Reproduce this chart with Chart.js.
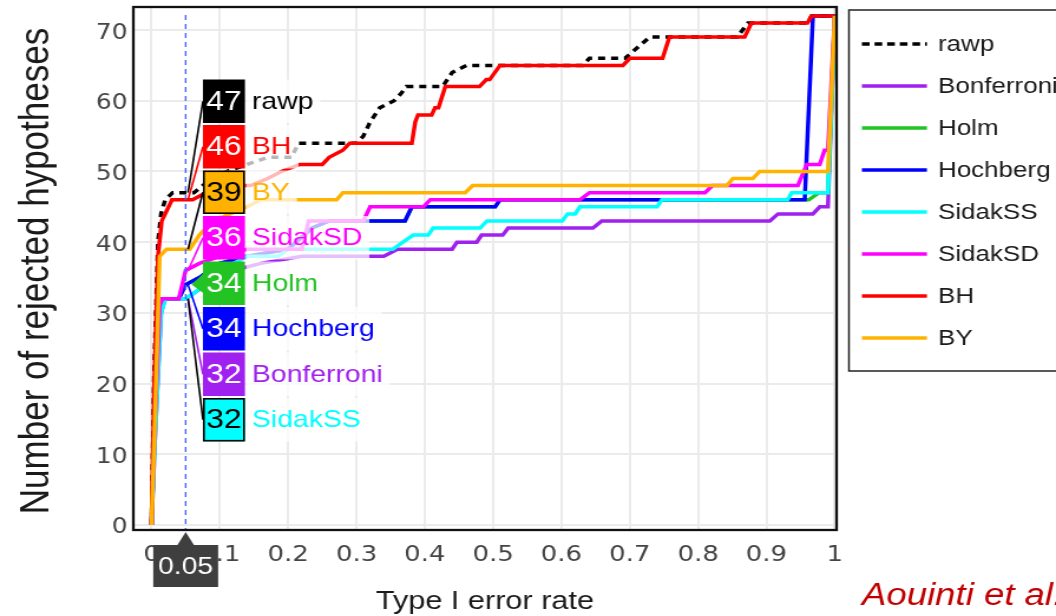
<!DOCTYPE html>
<html>
<head>
<meta charset="utf-8">
<script src="https://cdn.jsdelivr.net/npm/chart.js@4.4.1/dist/chart.umd.min.js"></script>
<style>
  html, body { margin: 0; padding: 0; background: #fff; overflow: hidden; }
  #wrap { width: 1056px; height: 616px; overflow: hidden; }
  /* the figure is laid out on a narrower canvas and widened horizontally */
  #chart { display: block; transform-origin: 0 0; transform: scaleX(1.17989); }
</style>
</head>
<body>
<div id="wrap"><canvas id="chart" width="895" height="616"></canvas></div>
<script>
// ---- procedures, in legend order ----
const seriesNames  = ['rawp', 'Bonferroni', 'Holm', 'Hochberg', 'SidakSS', 'SidakSD', 'BH', 'BY'];
const seriesColors = ['#000000', '#a020f0', '#22c322', '#0000ff', '#00ffff', '#ff00ff', '#ff0000', '#ffb300'];
const darkLabels   = ['BY', 'SidakSS'];   // labels printed in black with a black outline
const alpha = 0.05;

// ---- axis ticks ----
const xTicks      = [0, 0.1, 0.2, 0.3, 0.4, 0.5, 0.6, 0.7, 0.8, 0.9, 1];
const xTickLabels = ['0', '0.1', '0.2', '0.3', '0.4', '0.5', '0.6', '0.7', '0.8', '0.9', '1'];
const yTicks      = [0, 10, 20, 30, 40, 50, 60, 70];

// ---- number of rejected hypotheses vs type I error rate ----
const rawpX = [0, 0.004, 0.0095, 0.014, 0.02, 0.031, 0.05, 0.062, 0.075, 0.09, 0.11, 0.14, 0.17, 0.205, 0.215, 0.3, 0.31, 0.32, 0.334, 0.355, 0.365, 0.373, 0.426, 0.44, 0.461, 0.631, 0.641, 0.693, 0.705, 0.729, 0.857, 0.873, 0.96, 0.966, 1];
const rawpY = [0, 22, 40, 44, 46, 47, 47, 47, 48, 49, 50, 51, 52, 52, 54, 54, 55, 57, 59, 60, 61, 62, 62, 64, 65, 65, 66, 66, 67, 69, 69, 71, 71, 72, 72];

const bonferroniX = [0, 0.005, 0.014, 0.02, 0.05, 0.08, 0.12, 0.16, 0.22, 0.34, 0.36, 0.44, 0.447, 0.476, 0.483, 0.514, 0.522, 0.646, 0.659, 0.905, 0.917, 0.968, 0.978, 0.99, 1];
const bonferroniY = [0, 12, 30, 32, 32, 34, 36, 37, 38, 38, 39, 39, 40, 40, 41, 41, 42, 42, 43, 43, 44, 44, 45, 45, 72];

const holmX = [0, 0.005, 0.012, 0.016, 0.04, 0.05, 0.07, 0.1, 0.14, 0.2, 0.235, 0.26, 0.371, 0.381, 0.503, 0.51, 0.962, 0.977, 0.99, 1];
const holmY = [0, 15, 31, 32, 32, 34, 35, 37, 38, 39, 42, 43, 43, 45, 45, 46, 46, 47, 47, 72];

const hochbergX = [0, 0.005, 0.012, 0.016, 0.04, 0.05, 0.07, 0.1, 0.14, 0.2, 0.235, 0.26, 0.371, 0.381, 0.503, 0.51, 0.956, 0.968, 1];
const hochbergY = [0, 15, 31, 32, 32, 34, 35, 37, 38, 39, 42, 43, 43, 45, 45, 46, 46, 72, 72];

const sidakSSX = [0, 0.005, 0.014, 0.02, 0.05, 0.065, 0.09, 0.12, 0.14, 0.185, 0.2, 0.353, 0.368, 0.383, 0.405, 0.412, 0.481, 0.491, 0.601, 0.609, 0.62, 0.627, 0.74, 0.747, 0.931, 0.937, 0.99, 1];
const sidakSSY = [0, 12, 30, 32, 32, 33, 35, 37, 38, 38, 39, 39, 40, 41, 41, 42, 42, 43, 43, 44, 44, 45, 45, 46, 46, 47, 47, 72];

const sidakSDX = [0, 0.005, 0.012, 0.016, 0.04, 0.045, 0.05, 0.07, 0.1, 0.14, 0.22, 0.23, 0.31, 0.32, 0.398, 0.408, 0.627, 0.641, 0.81, 0.821, 0.946, 0.959, 0.978, 0.985, 0.99, 1];
const sidakSDY = [0, 15, 31, 32, 32, 34, 36, 37, 38, 39, 39, 43, 43, 45, 45, 46, 46, 47, 47, 48, 48, 51, 51, 53, 53, 72];

const bhX = [0, 0.004, 0.0095, 0.015, 0.03, 0.05, 0.06, 0.08, 0.11, 0.145, 0.17, 0.19, 0.217, 0.25, 0.26, 0.28, 0.29, 0.381, 0.386, 0.39, 0.41, 0.415, 0.42, 0.43, 0.48, 0.49, 0.495, 0.51, 0.69, 0.70, 0.748, 0.758, 0.868, 0.878, 0.96, 0.966, 1];
const bhY = [0, 20, 38, 43, 46, 46, 46, 47, 48, 48, 49, 50, 51, 51, 52, 53, 54, 54, 57, 58, 58, 59, 59, 62, 62, 63, 63, 65, 65, 66, 66, 69, 69, 71, 71, 72, 72];

const byX = [0, 0.005, 0.012, 0.022, 0.05, 0.056, 0.07, 0.09, 0.115, 0.14, 0.16, 0.271, 0.28, 0.459, 0.47, 0.842, 0.851, 0.88, 0.89, 0.99, 1];
const byY = [0, 15, 38, 39, 39, 39, 41, 43, 44, 45, 46, 46, 47, 47, 48, 48, 49, 49, 50, 50, 72];

const seriesX = [rawpX, bonferroniX, holmX, hochbergX, sidakSSX, sidakSDX, bhX, byX];
const seriesY = [rawpY, bonferroniY, holmY, hochbergY, sidakSSY, sidakSDY, bhY, byY];

// value of a curve at a given error rate (linear between samples)
function valueAt(xs, ys, x0) {
  for (let i = 0; i < xs.length; i++) {
    if (xs[i] === x0) return ys[i];
    if (xs[i] > x0 && i > 0) {
      const t = (x0 - xs[i - 1]) / (xs[i] - xs[i - 1]);
      return Math.round(ys[i - 1] + t * (ys[i] - ys[i - 1]));
    }
  }
  return ys[ys.length - 1];
}

const SANS = '"Liberation Sans", Arial, sans-serif';

const datasets = seriesNames.map((name, i) => ({
  label: name,
  data: seriesX[i].map((x, k) => ({ x, y: seriesY[i][k] })),
  borderColor: seriesColors[i],
  backgroundColor: seriesColors[i],
  borderWidth: 3.5,
  borderDash: name === 'rawp' ? [6, 5] : [],
  pointRadius: 0,
  tension: 0,
  fill: false,
  order: seriesNames.length - i   // later procedures drawn on top
}));

const overlay = {
  id: 'overlay',
  afterDraw(chart) {
    const { ctx, chartArea: a, scales: { x, y } } = chart;
    const ax = x.getPixelForValue(alpha);
    ctx.save();

    // threshold marker
    ctx.strokeStyle = '#4d63ff';
    ctx.lineWidth = 1.4;
    ctx.setLineDash([5, 4]);
    ctx.beginPath();
    ctx.moveTo(ax, a.top + 8);
    ctx.lineTo(ax, a.bottom);
    ctx.stroke();
    ctx.setLineDash([]);

    // plot frame
    ctx.strokeStyle = '#111';
    ctx.lineWidth = 2.3;
    ctx.strokeRect(a.left, a.top, a.right - a.left, a.bottom - a.top);

    // value callouts at the threshold
    const entries = seriesNames.map((name, i) => ({
      name, i, color: seriesColors[i], value: valueAt(seriesX[i], seriesY[i], alpha)
    }));
    entries.sort((p, q) => (q.value - p.value) || (p.i - q.i));

    const boxLeft = 172, boxW = 35.6, boxTop0 = 79.5, boxStep = 45.5, boxH = 43.5;
    const layout = entries.map((e, k) => {
      const top = boxTop0 + k * boxStep;
      return { ...e, top, cy: top + boxH / 2, py: y.getPixelForValue(e.value), dark: darkLabels.includes(e.name) };
    });

    // leader lines from each box to its point on the threshold
    layout.forEach(e => {
      const col = e.dark ? '#000' : e.color;
      ctx.strokeStyle = col;
      ctx.fillStyle = col;
      if (Math.abs(e.cy - e.py) < 20) {
        // box level with its point: short pointer
        ctx.beginPath();
        ctx.moveTo(boxLeft + 0.5, e.cy - 10);
        ctx.lineTo(ax + 5, e.py);
        ctx.lineTo(boxLeft + 0.5, e.cy + 10);
        ctx.closePath();
        ctx.fill();
      } else {
        ctx.lineWidth = 1.6;
        ctx.beginPath();
        ctx.moveTo(boxLeft, e.cy);
        ctx.lineTo(ax + 2, e.py);
        ctx.stroke();
      }
    });

    // boxes and names
    layout.forEach(e => {
      // name with a translucent backing
      ctx.font = '24px ' + SANS;
      const tw = ctx.measureText(e.name).width;
      const nx = boxLeft + boxW + 6;
      ctx.fillStyle = 'rgba(255,255,255,0.72)';
      ctx.fillRect(boxLeft + boxW + 1, e.top, tw + 11, boxH);
      ctx.fillStyle = e.color;
      ctx.textAlign = 'left';
      ctx.textBaseline = 'middle';
      ctx.fillText(e.name, nx, e.cy + 1);

      // number box
      ctx.fillStyle = e.color;
      ctx.fillRect(boxLeft, e.top, boxW, boxH);
      if (e.dark) {
        ctx.strokeStyle = '#000';
        ctx.lineWidth = 1.6;
        ctx.strokeRect(boxLeft + 0.8, e.top + 0.8, boxW - 1.6, boxH - 1.6);
      }
      ctx.font = '27px ' + SANS;
      ctx.fillStyle = e.dark ? '#000' : '#fff';
      ctx.textAlign = 'center';
      ctx.fillText(String(e.value), boxLeft + boxW / 2, e.cy + 1);
    });

    // threshold tag under the axis
    const tagW = 55, tagTop = 545, tagBottom = 587;
    ctx.fillStyle = '#3f3f3f';
    ctx.beginPath();
    ctx.moveTo(ax - tagW / 2, tagTop);
    ctx.lineTo(ax - 7, tagTop);
    ctx.lineTo(ax, a.bottom + 2);
    ctx.lineTo(ax + 7, tagTop);
    ctx.lineTo(ax + tagW / 2, tagTop);
    ctx.lineTo(ax + tagW / 2, tagBottom);
    ctx.lineTo(ax - tagW / 2, tagBottom);
    ctx.closePath();
    ctx.fill();
    ctx.fillStyle = '#fff';
    ctx.font = '24px ' + SANS;
    ctx.textAlign = 'center';
    ctx.textBaseline = 'middle';
    ctx.fillText(String(alpha), ax, (tagTop + tagBottom) / 2 + 1);

    // legend
    const lgLeft = 719.5, lgTop = 10, lgBottom = 371;
    ctx.strokeStyle = '#222';
    ctx.lineWidth = 1.5;
    ctx.strokeRect(lgLeft, lgTop, 300, lgBottom - lgTop);
    seriesNames.forEach((name, i) => {
      const ry = 44 + i * 42;
      ctx.strokeStyle = seriesColors[i];
      ctx.lineWidth = 3.5;
      ctx.setLineDash(name === 'rawp' ? [6.5, 4.2] : []);
      ctx.beginPath();
      ctx.moveTo(730.5, ry);
      ctx.lineTo(785.6, ry);
      ctx.stroke();
      ctx.setLineDash([]);
      ctx.fillStyle = '#1a1a1a';
      ctx.font = '22px ' + SANS;
      ctx.textAlign = 'left';
      ctx.textBaseline = 'middle';
      ctx.fillText(name, 795, ry + 1);
    });

    // axis titles
    ctx.fillStyle = '#1a1a1a';
    ctx.font = '26px ' + SANS;
    ctx.textAlign = 'center';
    ctx.textBaseline = 'alphabetic';
    ctx.fillText('Type I error rate', (a.left + a.right) / 2, 609);

    ctx.save();
    ctx.translate(40.5, 271);
    ctx.rotate(-Math.PI / 2);
    ctx.font = '35px ' + SANS;
    ctx.fillText('Number of rejected hypotheses', 0, 0);
    ctx.restore();

    // source note
    ctx.fillStyle = '#c00000';
    ctx.font = 'italic 31px ' + SANS;
    ctx.textAlign = 'left';
    ctx.fillText('Aouinti et al.', 730.5, 605);

    ctx.restore();
  }
};

new Chart(document.getElementById('chart'), {
  type: 'line',
  data: { datasets },
  options: {
    responsive: false,
    devicePixelRatio: 1,
    animation: false,
    events: [],
    layout: { padding: { left: 0, right: 186, top: 7, bottom: 0 } },
    plugins: { legend: { display: false }, tooltip: { enabled: false } },
    scales: {
      x: {
        type: 'linear',
        min: -0.0266,
        max: 1.0026,
        afterBuildTicks: axis => { axis.ticks = xTicks.map(v => ({ value: v })); },
        afterFit: s => { s.height = 86; s.paddingLeft = 0; s.paddingRight = 0; },
        ticks: {
          autoSkip: false,
          maxRotation: 0,
          padding: 12,
          color: '#444',
          font: { family: '"DejaVu Sans", Verdana, sans-serif', size: 22 },
          callback: (v, i) => xTickLabels[i]
        },
        grid: { color: '#ebebeb', lineWidth: 2, drawTicks: false },
        border: { display: false }
      },
      y: {
        type: 'linear',
        min: -0.707,
        max: 73.26,
        afterBuildTicks: axis => { axis.ticks = yTicks.map(v => ({ value: v })); },
        afterFit: s => { s.width = 113; s.paddingTop = 0; s.paddingBottom = 0; },
        ticks: {
          autoSkip: false,
          padding: 5,
          labelOffset: 3,
          color: '#444',
          font: { family: '"DejaVu Sans", Verdana, sans-serif', size: 21 },
          callback: v => String(v)
        },
        grid: { color: '#ebebeb', lineWidth: 2, drawTicks: false },
        border: { display: false }
      }
    }
  },
  plugins: [overlay]
});
</script>
</body>
</html>
